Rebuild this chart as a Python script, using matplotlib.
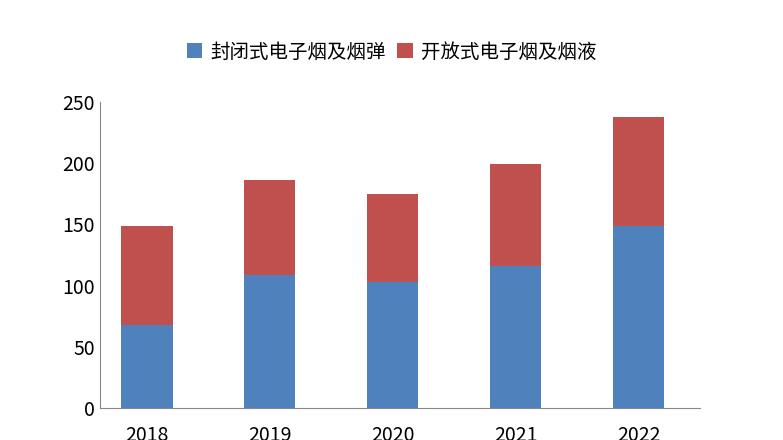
import matplotlib.pyplot as plt
import numpy as np

plt.rcParams['font.family'] = ['Noto Sans CJK SC', 'DejaVu Sans']

years = ["2018", "2019", "2020", "2021", "2022"]
closed = [68, 109, 103, 116, 149]
open_sys = [81, 77, 72, 83, 89]

fig = plt.figure(figsize=(7.83, 4.4), dpi=100)
ax = fig.add_axes([100 / 783, 32 / 440, 600 / 783, 306 / 440])
x = np.arange(len(years))
ax.bar(x, closed, width=0.42, color="#4F81BD", label="封闭式电子烟及烟弹")
ax.bar(x, open_sys, width=0.42, bottom=closed, color="#C0504D", label="开放式电子烟及烟液")

ax.set_xlim(-0.38, 4.5)
ax.set_ylim(0, 250)
ax.set_yticks(range(0, 251, 50))
ax.set_xticks(x)
ax.set_xticklabels(years)
ax.tick_params(axis="both", labelsize=14, length=0)
ax.tick_params(axis="x", pad=12)
for s in ["top", "right"]:
    ax.spines[s].set_visible(False)
ax.spines["left"].set_color("#888888")
ax.spines["bottom"].set_color("#888888")

fig.legend(loc="center", bbox_to_anchor=(0.5, 52 / 440 * -1 + 1), ncol=2,
           frameon=False, fontsize=14, handlelength=0.8, handleheight=0.8,
           columnspacing=0.6, handletextpad=0.4)

fig.savefig("out.png", dpi=100)
